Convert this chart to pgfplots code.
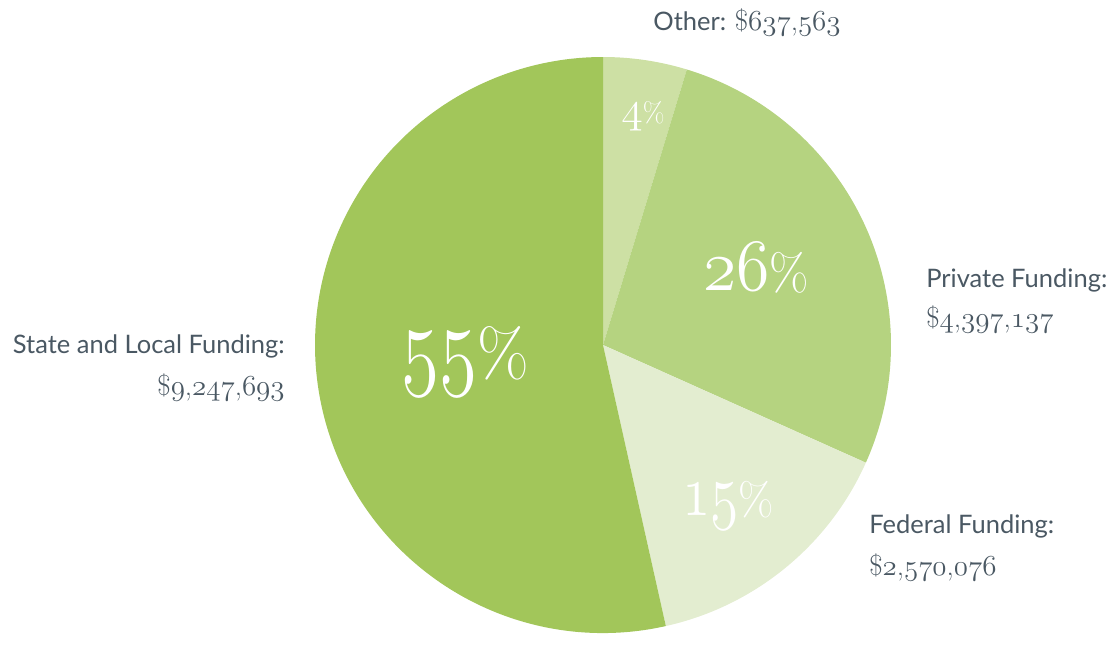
\RequirePackage{fix-cm}
\documentclass[border=0pt]{standalone}
\usepackage{pgfplots}
\pgfplotsset{compat=1.18}
\usepackage{pgfplotstable}
\usepackage{fontspec}
\newfontfamily\labelfont{Lato}

\definecolor{cState}{HTML}{A2C65A}
\definecolor{cPrivate}{HTML}{B5D380}
\definecolor{cOther}{HTML}{CDE0A4}
\definecolor{cFederal}{HTML}{E3EDD0}
\definecolor{txt}{HTML}{4A5863}

% old style figures from the math italic font (scalable through fix-cm)
\newcommand\osf[1]{{\usefont{OML}{cmm}{m}{it}#1}}
\newcommand\money[1]{{\rmfamily\fontsize{16.5}{18}\selectfont #1}}
% digits, size, horizontal squeeze, percent size
\newcommand\pct[4]{{\fontsize{#2}{#2}\selectfont\scalebox{#3}[1]{\osf{#1}}\fontsize{#4}{#4}\selectfont\%}}
\newcommand\lab{\labelfont\fontsize{14.5}{17}\selectfont}

% share of the circle (percent)
\pgfplotstableread{
name share
Other 4.7
Private 27.0
Federal 14.8
State 53.5
}\funding

\begin{document}%
\pgfplotstablegetelem{0}{share}\of\funding\pgfmathsetmacro\aA{90-3.6*\pgfplotsretval}%
\pgfplotstablegetelem{1}{share}\of\funding\pgfmathsetmacro\aB{\aA-3.6*\pgfplotsretval}%
\pgfplotstablegetelem{2}{share}\of\funding\pgfmathsetmacro\aC{\aB-3.6*\pgfplotsretval}%
\pgfplotstablegetelem{3}{share}\of\funding\pgfmathsetmacro\aD{\aC-3.6*\pgfplotsretval}%
\begin{tikzpicture}
\begin{axis}[
  width=22.26cm, height=12.68cm, scale only axis,
  xmin=0, xmax=1113, ymin=0, ymax=634,
  hide axis, clip=false,
]
  % keep the whole axis area as the picture
  \path (axis cs:0,0) rectangle (axis cs:1113,634);

  \fill[cOther] (axis cs:603,289) -- ++(90:5.76cm)
    arc[start angle=90, end angle=\aA, radius=5.76cm] -- cycle;
  \fill[cPrivate] (axis cs:603,289) -- ++(\aA:5.76cm)
    arc[start angle=\aA, end angle=\aB, radius=5.76cm] -- cycle;
  \fill[cFederal] (axis cs:603,289) -- ++(\aB:5.76cm)
    arc[start angle=\aB, end angle=\aC, radius=5.76cm] -- cycle;
  \fill[cState] (axis cs:603,289) -- ++(\aC:5.76cm)
    arc[start angle=\aC, end angle=\aD, radius=5.76cm] -- cycle;

  % percentages
  \node[anchor=base, white, inner sep=0pt] at (axis cs:465,258) {\pct{55}{58}{0.76}{38}};
  \node[anchor=base, white, inner sep=0pt] at (axis cs:756,344) {\pct{26}{42}{0.92}{29}};
  \node[anchor=base, white, inner sep=0pt] at (axis cs:728,119) {\pct{15}{42}{0.78}{26}};
  \node[anchor=base, white, inner sep=0pt] at (axis cs:643,512) {\pct{4}{25}{1}{16}};

  % labels
  \node[anchor=base, txt, inner sep=0pt] at (axis cs:747,604)
    {\lab Other: \money{\$\osf{637},\osf{563}}};
  \node[anchor=base west, txt, inner sep=0pt] at (axis cs:926,347)
    {\lab Private Funding:};
  \node[anchor=base west, txt, inner sep=0pt] at (axis cs:926,307)
    {\money{\$\osf{4},\osf{397},\osf{137}}};
  \node[anchor=base west, txt, inner sep=0pt] at (axis cs:869,101)
    {\lab Federal Funding:};
  \node[anchor=base west, txt, inner sep=0pt] at (axis cs:869,59)
    {\money{\$\osf{2},\osf{570},\osf{076}}};
  \node[anchor=base east, txt, inner sep=0pt] at (axis cs:285,281)
    {\lab State and Local Funding:};
  \node[anchor=base east, txt, inner sep=0pt] at (axis cs:285,239)
    {\money{\$\osf{9},\osf{247},\osf{693}}};
\end{axis}
\end{tikzpicture}%
\end{document}
